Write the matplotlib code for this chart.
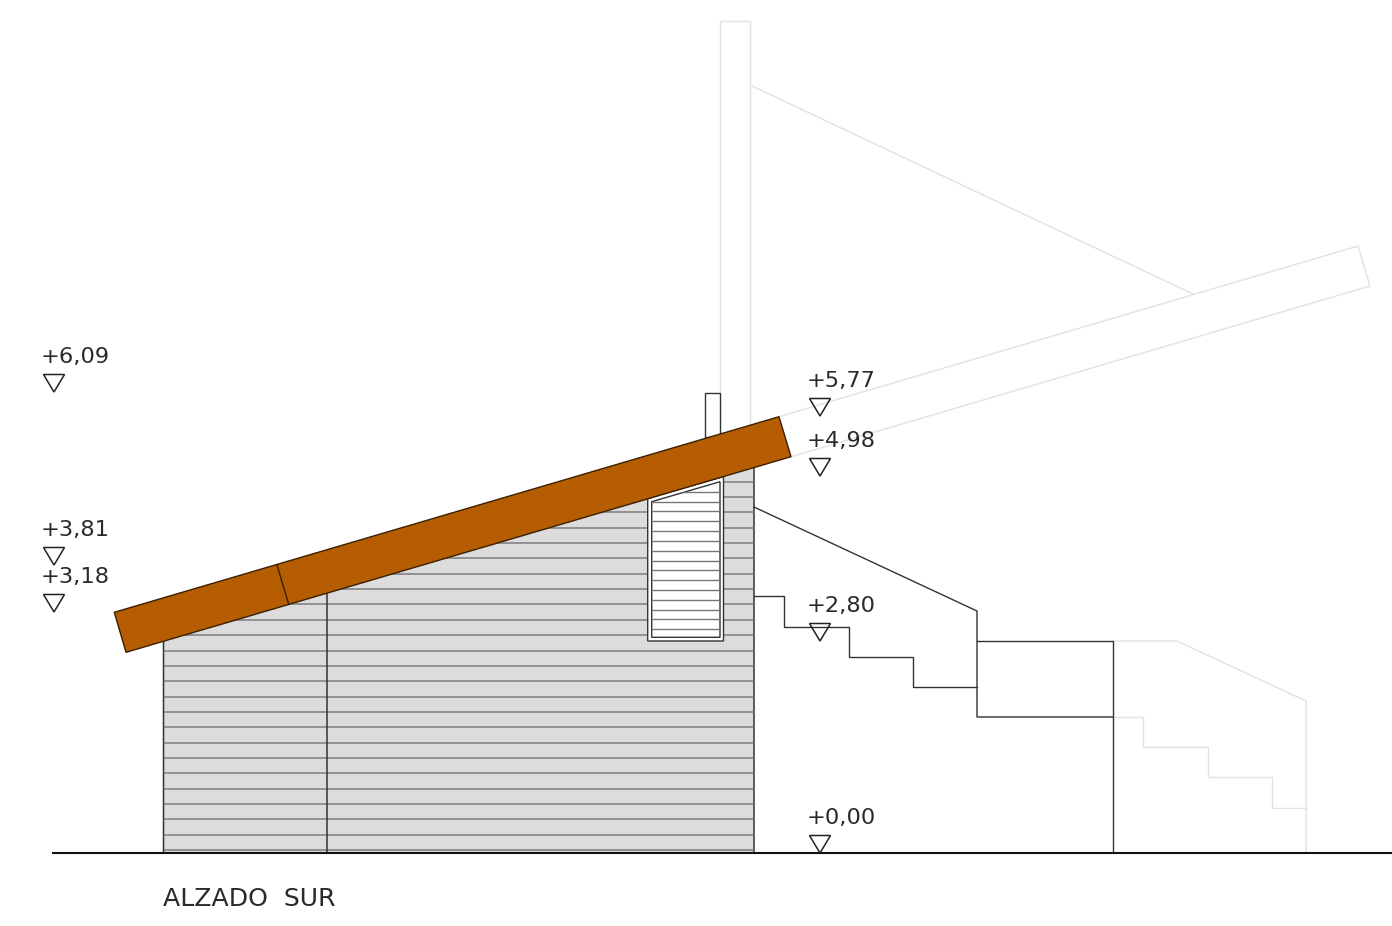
import matplotlib
matplotlib.use("Agg")
import matplotlib.pyplot as plt
from matplotlib.patches import Polygon

# Drawing geometry (x, y in image pixels)
ground = [(53, 853), (1392, 853)]
wall = [(163.5, 853), (754, 853), (754, 445), (163.5, 620)]
wall_post_x = 326.5
wall_post = [(wall_post_x, 853), (wall_post_x, 590)]
siding_y = [850, 834.7, 819.4, 804, 788.6, 773.3, 758, 742.7, 727.4, 712, 696.6, 681.3,
            666, 650.7, 635.3, 620, 604.3, 589, 573.7, 558.3, 543, 527.7, 512.3, 496.7, 481.7]
roof = [(114.3, 612.3), (779, 416.7), (791, 456.7), (126, 652.3)]
roof_joint = [(277, 565), (288.7, 604.3)]
window_outer = [(647.7, 641), (723.5, 641), (723.5, 476.5), (647.7, 498.5)]
window_inner = [(651.7, 637.3), (720, 637.3), (720, 481.7), (651.7, 501.7)]
window_y = [491.7, 501.7, 511, 521, 530.7, 540.7, 550.7, 560.7, 570.3, 580.3,
            590, 600, 610, 619.3, 629.3]
flue = [(704.5, 437), (704.5, 392.5), (720, 392.5), (720, 437)]

dark_paths = [
    [(754, 507), (977, 611), (977, 717), (1113, 717)],
    [(977, 641), (1113, 641), (1113, 853)],
    [(754, 596), (784, 596), (784, 627), (848.5, 627), (848.5, 657),
     (913, 657), (913, 687), (977, 687)],
]
light_paths = [
    [(720, 425), (720, 21), (750, 21), (750, 425)],
    [(750, 85), (1193, 294)],
    [(779, 416.7), (1358, 246), (1370, 286), (791, 456.7)],
    [(1113, 641), (1177, 641), (1306, 701), (1306, 853)],
    [(1113, 717), (1143, 717), (1143, 747), (1208, 747), (1208, 777),
     (1272, 777), (1272, 808), (1306, 808)],
]

level_labels = ["+6,09", "+3,81", "+3,18", "+5,77", "+4,98", "+2,80", "+0,00"]
level_x = [54, 54, 54, 820, 820, 820, 820]
level_tip_y = [392, 565, 612, 416, 476, 641, 853]
title = "ALZADO  SUR"

INK = "#333333"
WOOD = "#b55d00"

fig = plt.figure(figsize=(13.92, 9.26), dpi=100)
ax = fig.add_axes([0, 0, 1, 1])
ax.set_xlim(0, 1392)
ax.set_ylim(926, 0)
ax.axis("off")


def path(points, **kw):
    return ax.plot([p[0] for p in points], [p[1] for p in points], **kw)


for p in light_paths:
    path(p, color="#e2e2e2", lw=1.0, zorder=1, solid_joinstyle="miter")

wall_patch = Polygon(wall, closed=True, facecolor="#dcdcdc", edgecolor=INK, lw=1.1, zorder=2)
ax.add_patch(wall_patch)
siding = ax.hlines(siding_y, 163.5, 754, color="#7d7d7d", lw=1.1, zorder=3)
siding.set_clip_path(wall_patch)
path(wall_post, color=INK, lw=1.1, zorder=4)
ax.add_patch(Polygon(flue, closed=True, facecolor="white", edgecolor=INK, lw=1.0, zorder=2))

ax.add_patch(Polygon(window_outer, closed=True, facecolor="white", edgecolor=INK, lw=1.0, zorder=5))
inner_patch = Polygon(window_inner, closed=True, facecolor="white", edgecolor=INK, lw=1.0, zorder=6)
ax.add_patch(inner_patch)
glass = ax.hlines(window_y, 651.7, 720, color="#777777", lw=1.0, zorder=7)
glass.set_clip_path(inner_patch)

ax.add_patch(Polygon(roof, closed=True, facecolor=WOOD, edgecolor="#3a2000", lw=1.0, zorder=8))
path(roof_joint, color="#3a2000", lw=1.0, zorder=9)

for p in dark_paths:
    path(p, color=INK, lw=1.0, zorder=4, solid_joinstyle="miter")
path(ground, color="#111111", lw=1.5, zorder=10)

for label, x, tip in zip(level_labels, level_x, level_tip_y):
    ax.add_patch(Polygon([(x, tip), (x - 10.5, tip - 17.5), (x + 10.5, tip - 17.5)], closed=True,
                         facecolor="none", edgecolor="#222222", lw=1.1, zorder=11))
    ax.text(x - 13, tip - 29, label, fontsize=16.2, family="DejaVu Sans", color="#2a2a2a",
            ha="left", va="baseline", zorder=11)

ax.text(163, 905.5, title, fontsize=18.1, family="DejaVu Sans", color="#2a2a2a",
        ha="left", va="baseline", zorder=11)

fig.savefig("out.png", dpi=100, facecolor="white")
